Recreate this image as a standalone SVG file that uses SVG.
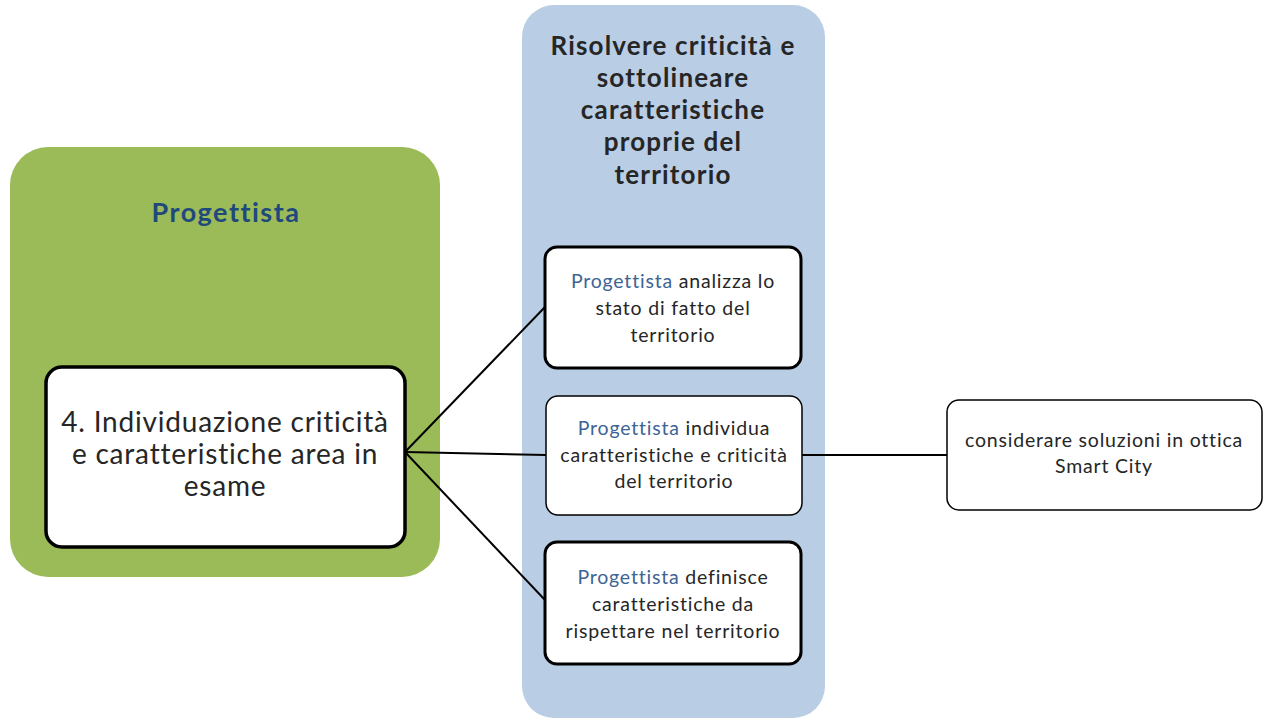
<svg xmlns="http://www.w3.org/2000/svg" width="1263" height="718" viewBox="0 0 1263 718">
<style>
.t{font-family:Lato,"Open Sans","Liberation Sans",sans-serif;text-anchor:middle;fill:#262626}
.b{font-weight:bold}
.pb{fill:#1f497d}
.pl{fill:#3d6494}
.s{font-size:19.5px;letter-spacing:0.8px}
.wb{fill:#fff;stroke:#000}
.c{stroke:#000;stroke-width:2;fill:none}
</style>
<rect width="1263" height="718" fill="#fff"/>
<g id="lane-progettista">
<rect x="10" y="147" width="430" height="430" rx="38" fill="#9bbb59"/>
<text class="t b pb" x="226" y="222" font-size="27" letter-spacing="1.5">Progettista</text>
</g>
<g id="lane-risolvere">
<rect x="522" y="5" width="303" height="713" rx="32" fill="#b9cde5"/>
<text class="t b" font-size="26" letter-spacing="1.2"><tspan x="673" y="55">Risolvere criticità e</tspan><tspan x="673" y="87">sottolineare</tspan><tspan x="673" y="119">caratteristiche</tspan><tspan x="673" y="151">proprie del</tspan><tspan x="673" y="184">territorio</tspan></text>
</g>
<g id="connectors">
<line class="c" x1="405" y1="452" x2="545" y2="307"/>
<line class="c" x1="405" y1="452" x2="546" y2="455"/>
<line class="c" x1="405" y1="452" x2="545" y2="600"/>
<line class="c" x1="802" y1="455" x2="947" y2="455" stroke-width="1.5"/>
</g>
<g id="node-individuazione">
<rect class="wb" x="46" y="367" width="359" height="180" rx="16" stroke-width="3.5"/>
<text class="t" font-size="28" letter-spacing="0.8"><tspan x="225" y="432">4. Individuazione criticità</tspan><tspan x="225" y="464">e caratteristiche area in</tspan><tspan x="225" y="496">esame</tspan></text>
</g>
<g id="node-analizza">
<rect class="wb" x="545" y="247" width="256" height="121" rx="12" stroke-width="3"/>
<text class="t s"><tspan x="673" y="288"><tspan class="pl">Progettista</tspan> analizza lo</tspan><tspan x="673" y="315">stato di fatto del</tspan><tspan x="673" y="342">territorio</tspan></text>
</g>
<g id="node-individua">
<rect class="wb" x="546" y="396" width="256" height="119" rx="12" stroke-width="1.5"/>
<text class="t s"><tspan x="674" y="435"><tspan class="pl">Progettista</tspan> individua</tspan><tspan x="674" y="462">caratteristiche e criticità</tspan><tspan x="674" y="488">del territorio</tspan></text>
</g>
<g id="node-definisce">
<rect class="wb" x="545" y="542" width="256" height="122" rx="12" stroke-width="3"/>
<text class="t s"><tspan x="673" y="584"><tspan class="pl">Progettista</tspan> definisce</tspan><tspan x="673" y="611">caratteristiche da</tspan><tspan x="673" y="638">rispettare nel territorio</tspan></text>
</g>
<g id="node-smartcity">
<rect class="wb" x="947" y="400" width="315" height="110" rx="12" stroke-width="1.5"/>
<text class="t s"><tspan x="1104" y="447">considerare soluzioni in ottica</tspan><tspan x="1104" y="473">Smart City</tspan></text>
</g>
</svg>
